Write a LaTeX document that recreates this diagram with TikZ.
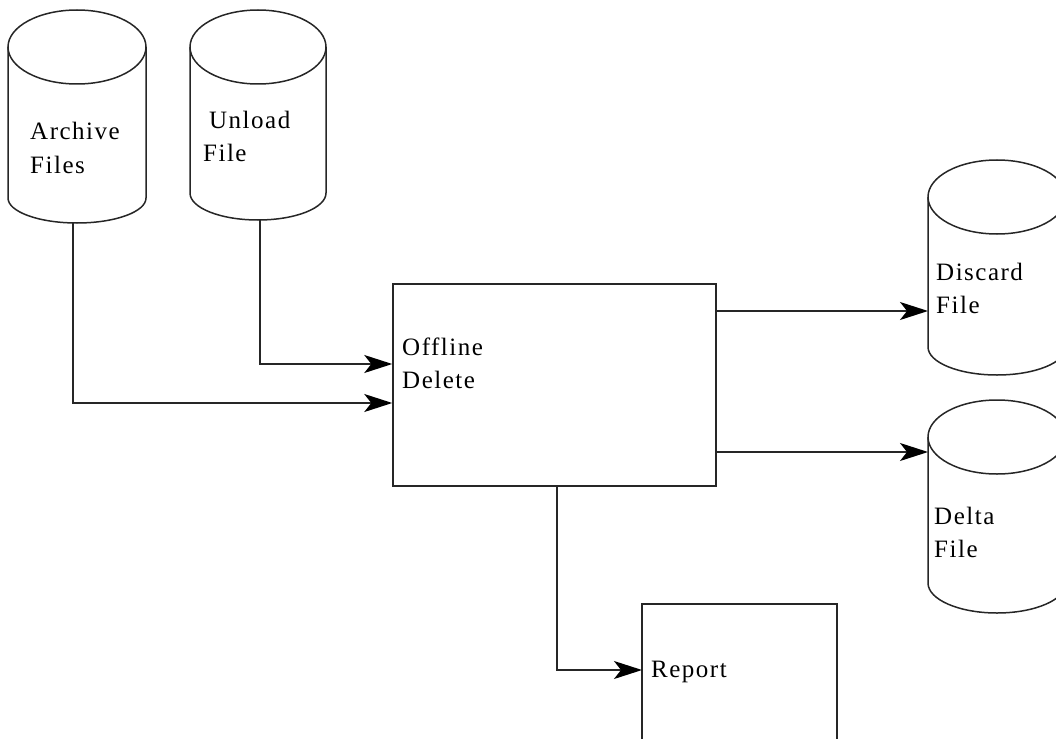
\documentclass[tikz,border=0pt]{standalone}
\usepackage{fontspec}
\setmainfont{Liberation Serif}[LetterSpace=6]
\usetikzlibrary{arrows.meta}
\tikzset{
  ln/.style={line width=1.5pt, draw=black!85},
  flow/.style={ln, -{Stealth[length=28pt,width=18pt,inset=7pt,color=black,fill=black]}},
  lbl/.style={inner sep=0pt, anchor=base west, align=left, font=\fontsize{25}{33}\selectfont},
}
\newcommand\dbcyl[6]{% left, right, top, center-y, side-bottom, bottom
  \draw[ln] ({(#1+#2)/2},#4) ellipse [x radius={(#2-#1)/2}, y radius={#4-#3}];
  \draw[ln] (#1,#4) -- (#1,#5) arc[start angle=180, end angle=0, x radius={(#2-#1)/2}, y radius={#6-#5}] -- (#2,#4);
}
\begin{document}
\begin{tikzpicture}[x=1pt,y=-1pt]
\useasboundingbox (0,0) rectangle (1056,738);
\clip (0,0) rectangle (1056,738);
% cylinders
\dbcyl{8}{146}{10}{47}{198}{223}
\dbcyl{190}{326}{10}{47}{193}{220}
\dbcyl{928}{1066}{160}{197}{347}{375}
\dbcyl{928}{1066}{400}{437}{583}{613}
\coordinate (arcB) at (73,223);
\coordinate (unlB) at (260,220);
\coordinate (discW) at (928,311);
\coordinate (deltaW) at (928,452);
\node[lbl] (arcT) at (30,173) {Archive\\Files};
\node[lbl] (unlT) at (203,162) {\hspace{6pt}Unload\\File};
\node[lbl] (discT) at (936,313) {Discard\\File};
\node[lbl] (deltaT) at (934,557) {Delta\\File};
% process box
\node[ln, draw, rectangle, minimum width=323pt, minimum height=202pt, inner sep=0pt] (offline) at (554.5,385) {};
\node[lbl] (offT) at (402,388) {Offline\\Delete};
% report box (cut by the page edge)
\draw[ln] (642,760) -- (642,604) -- (837,604) -- (837,760);
\coordinate (repW) at (642,670);
\node[lbl] (repT) at (651,677) {Report};
% connectors
\draw[flow] (arcB) |- ([yshift=-18pt]offline.west);
\draw[flow] (unlB) |- ([yshift=21pt]offline.west);
\draw[flow] (offline.east |- discW) -- (discW);
\draw[flow] (offline.east |- deltaW) -- (deltaW);
\draw[flow] ([xshift=2.5pt]offline.south) |- (repW);
\end{tikzpicture}
\end{document}
